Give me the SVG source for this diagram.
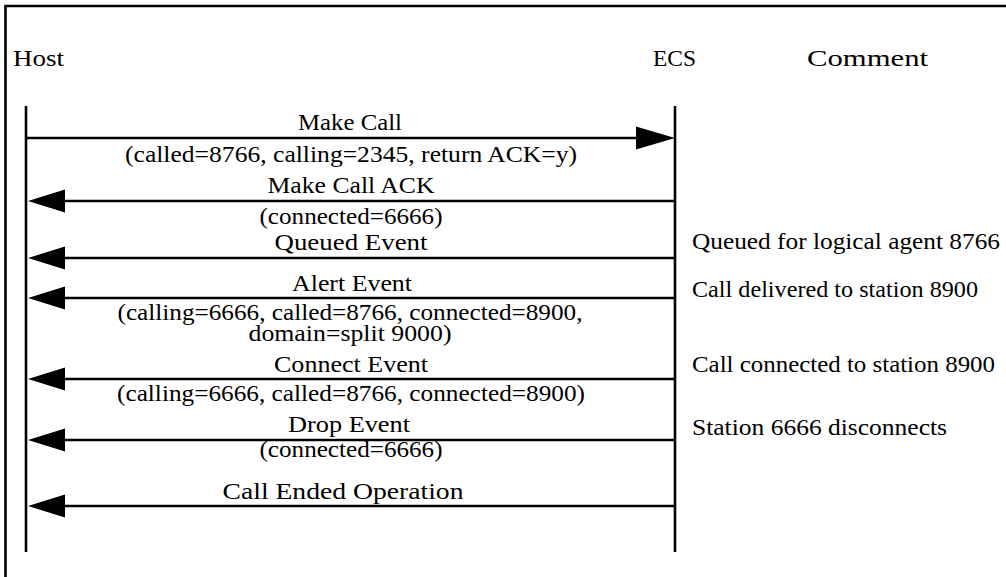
<svg xmlns="http://www.w3.org/2000/svg" width="1006" height="577" viewBox="0 0 1006 577">
<defs>
<style>
text{font-family:"Liberation Serif","Times New Roman",serif;font-size:24px;fill:#000}
.c{text-anchor:middle}
.life{stroke:#000;stroke-width:2.6;fill:none}
.msg{stroke:#000;stroke-width:2.6;fill:none}
.head{fill:#000;stroke:none}
</style>
</defs>
<rect width="1006" height="577" fill="#fff"/>
<g id="frame">
<path d="M5.5,577 V6 H1006" stroke="#000" stroke-width="2.6" fill="none"/>
</g>
<g id="host">
<text x="13" y="66" textLength="51" lengthAdjust="spacingAndGlyphs">Host</text>
<line class="life" x1="26" y1="106" x2="26" y2="552"/>
</g>
<g id="ecs">
<text x="653" y="66" textLength="43" lengthAdjust="spacingAndGlyphs">ECS</text>
<line class="life" x1="675" y1="106" x2="675" y2="552"/>
</g>
<g id="comment">
<text x="807" y="66" textLength="121" lengthAdjust="spacingAndGlyphs">Comment</text>
<text x="692" y="249" textLength="308" lengthAdjust="spacingAndGlyphs">Queued for logical agent 8766</text>
<text x="692" y="297" textLength="286" lengthAdjust="spacingAndGlyphs">Call delivered to station 8900</text>
<text x="692" y="372" textLength="303" lengthAdjust="spacingAndGlyphs">Call connected to station 8900</text>
<text x="692" y="435" textLength="255" lengthAdjust="spacingAndGlyphs">Station 6666 disconnects</text>
</g>
<g id="connectors">
<g id="m1">
<line class="msg" x1="26" y1="138" x2="640" y2="138"/>
<polygon class="head" points="675,138 636,126.5 636,149.5"/>
<text class="c" x="350" y="130" textLength="104" lengthAdjust="spacingAndGlyphs">Make Call</text>
<text class="c" x="351" y="162" textLength="452" lengthAdjust="spacingAndGlyphs">(called=8766, calling=2345, return ACK=y)</text>
</g>
<g id="m2">
<line class="msg" x1="60" y1="201" x2="675" y2="201"/>
<polygon class="head" points="28,201 65,189.5 65,212.5"/>
<text class="c" x="351" y="193" textLength="167" lengthAdjust="spacingAndGlyphs">Make Call ACK</text>
<text class="c" x="351" y="224" textLength="183" lengthAdjust="spacingAndGlyphs">(connected=6666)</text>
</g>
<g id="m3">
<line class="msg" x1="60" y1="258" x2="675" y2="258"/>
<polygon class="head" points="28,258 65,246.5 65,269.5"/>
<text class="c" x="351" y="250" textLength="153" lengthAdjust="spacingAndGlyphs">Queued Event</text>
</g>
<g id="m4">
<line class="msg" x1="60" y1="298" x2="675" y2="298"/>
<polygon class="head" points="28,298 65,286.5 65,309.5"/>
<text class="c" x="352" y="291" textLength="120" lengthAdjust="spacingAndGlyphs">Alert Event</text>
<text class="c" x="350" y="320" textLength="465" lengthAdjust="spacingAndGlyphs">(calling=6666, called=8766, connected=8900,</text>
<text class="c" x="350" y="341" textLength="203" lengthAdjust="spacingAndGlyphs">domain=split 9000)</text>
</g>
<g id="m5">
<line class="msg" x1="60" y1="379" x2="675" y2="379"/>
<polygon class="head" points="28,379 65,367.5 65,390.5"/>
<text class="c" x="351" y="372" textLength="154" lengthAdjust="spacingAndGlyphs">Connect Event</text>
<text class="c" x="351" y="401" textLength="468" lengthAdjust="spacingAndGlyphs">(calling=6666, called=8766, connected=8900)</text>
</g>
<g id="m6">
<line class="msg" x1="60" y1="440" x2="675" y2="440"/>
<polygon class="head" points="28,440 65,428.5 65,451.5"/>
<text class="c" x="349" y="432" textLength="122" lengthAdjust="spacingAndGlyphs">Drop Event</text>
<text class="c" x="351" y="457" textLength="183" lengthAdjust="spacingAndGlyphs">(connected=6666)</text>
</g>
<g id="m7">
<line class="msg" x1="60" y1="506" x2="675" y2="506"/>
<polygon class="head" points="28,506 65,494.5 65,517.5"/>
<text class="c" x="343" y="499" textLength="241" lengthAdjust="spacingAndGlyphs">Call Ended Operation</text>
</g>
</g>
</svg>
